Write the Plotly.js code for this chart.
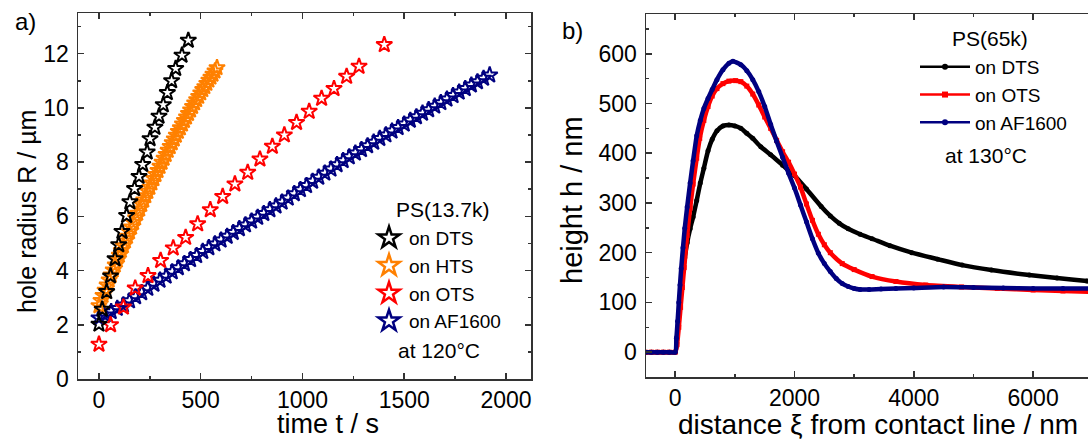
<!DOCTYPE html>
<html><head><meta charset="utf-8">
<script src="https://cdn.plot.ly/plotly-3.0.1.min.js"></script>
<style>html,body{margin:0;padding:0;background:#fff}#chart{width:1088px;height:439px}</style>
</head><body><div id="chart"></div>
<script>
// ---------- panel a) hole radius vs time ----------
const tDTS = [0,16,38,57,79,97,113,136,152,175,197,215,237,251,275,295,316,336,357,377,408,439];
const rDTS = [2.02,2.57,3.22,3.80,4.43,4.95,5.44,6.03,6.53,7.02,7.47,7.91,8.37,8.86,9.28,9.69,10.11,10.56,11.00,11.45,11.94,12.49];

const tHTS = [0,10,20,30,40,50,60,70,80,90,100,110,120,130,140,150,160,170,180,190,200,210,220,230,240,250,260,270,280,290,300,310,320,330,340,350,360,370,380,390,400,410,420,430,440,450,460,470,480,490,500,510,520,530,540,550,560,570,580];
const rHTS = [2.70,2.89,3.08,3.27,3.46,3.65,3.83,4.02,4.20,4.38,4.56,4.74,4.91,5.09,5.26,5.43,5.60,5.77,5.94,6.11,6.27,6.44,6.60,6.76,6.92,7.07,7.23,7.39,7.54,7.69,7.84,7.99,8.14,8.28,8.43,8.57,8.71,8.85,8.99,9.13,9.26,9.40,9.53,9.66,9.79,9.92,10.05,10.18,10.30,10.42,10.55,10.67,10.78,10.90,11.02,11.13,11.24,11.36,11.48];

const tOTS = [0,57,120,178,241,303,365,426,485,547,608,668,731,791,852,911,971,1033,1094,1155,1217,1278,1402];
const rOTS = [1.28,2.00,2.65,3.35,3.81,4.37,4.83,5.22,5.72,6.24,6.73,7.19,7.62,8.11,8.58,9.00,9.46,9.87,10.35,10.71,11.16,11.53,12.33];

const tAF = [0,30,60,90,120,150,180,210,240,270,300,330,360,390,420,450,480,510,540,570,600,630,660,690,720,750,780,810,840,870,900,930,960,990,1020,1050,1080,1110,1140,1170,1200,1230,1260,1290,1320,1350,1380,1410,1440,1470,1500,1530,1560,1590,1620,1650,1680,1710,1740,1770,1800,1830,1860,1890,1920];
const rAF = [2.25,2.36,2.48,2.60,2.73,2.88,3.03,3.18,3.34,3.49,3.64,3.79,3.95,4.10,4.25,4.40,4.55,4.70,4.84,4.98,5.12,5.26,5.40,5.54,5.68,5.82,5.96,6.10,6.24,6.38,6.52,6.67,6.83,6.98,7.13,7.29,7.44,7.59,7.74,7.90,8.05,8.19,8.33,8.46,8.60,8.73,8.87,9.00,9.14,9.27,9.40,9.54,9.67,9.80,9.93,10.06,10.19,10.32,10.45,10.58,10.71,10.84,10.96,11.09,11.21];

const legendA = ["on DTS","on HTS","on OTS","on AF1600"];

// ---------- panel b) height profile ----------
const xDTS = [-500,-400,-300,-200,-100,0,30,60,90,120,160,200,250,300,360,420,480,550,620,700,800,900,1000,1100,1200,1300,1435,1600,1800,2000,2200,2447,2600,2750,2900,3100,3300,3600,3966,4400,4810,5300,5935,6400,6900,7000];
const hDTS = [0,0,0,0,0,0,30,75,115,150,190,220,248,272,305,340,370,405,428,445,455,457,455,450,440,430,413,397,376,355,328,293,274,259,248,237,228,214,200,187,175,165,155,149,143,142];

const xOTS = [-500,-400,-300,-200,-100,0,30,60,90,120,150,200,250,300,360,411,480,550,620,700,800,900,1013,1100,1200,1300,1400,1500,1600,1700,1800,1900,2000,2100,2200,2300,2400,2500,2600,2800,3000,3300,3700,4200,4800,5400,6000,6500,7000];
const hOTS = [0,0,0,0,0,0,15,50,90,130,170,235,290,338,390,430,466,494,515,530,540,545,546,544,535,519,497,473,450,426,403,382,358,332,298,265,237,216,200,178,166,152,142,135,131,128,125,123,121];

const xAF = [-500,-400,-300,-200,-100,0,20,40,60,80,100,130,160,200,250,300,360,420,480,550,620,700,800,900,967,1100,1200,1300,1400,1500,1600,1700,1800,1900,2000,2100,2200,2300,2400,2500,2600,2700,2800,2900,3000,3100,3250,3450,3700,4000,4500,5000,5500,6000,6500,7000];
const hAF = [0,0,0,0,0,0,28,62,100,135,168,210,249,292,340,385,435,466,490,510,528,548,568,581,585,578,566,548,524,494,458,424,392,360,330,296,262,228,199,178,162,148,138,132,128,126,126,127,128,129,131,130,129,128,128,128];

const legendB = ["on DTS","on OTS","on AF1600"];

const FONT = "Liberation Sans, Arial, sans-serif";
const cBlack = "#000000", cOrange = "#ff8000", cRed = "#ff0000", cNavy = "#000080";

function starTrace(x, y, color) {
  return {x: x, y: y, type: "scatter", mode: "markers", xaxis: "x", yaxis: "y", showlegend: false,
    marker: {symbol: "star-open", size: 12, color: color, line: {width: 2, color: color}}, cliponaxis: false};
}
function starLegend(name, color) {
  return {x: [null], y: [null], type: "scatter", mode: "markers", xaxis: "x", yaxis: "y", name: name, legend: "legend",
    marker: {symbol: "star-open", size: 16, color: color, line: {width: 2.5, color: color}}};
}
function lineTrace(x, y, color, sym) {
  return {x: x, y: y, type: "scatter", mode: "lines+markers", xaxis: "x2", yaxis: "y2", showlegend: false,
    line: {color: color, width: 4.5, shape: "spline", smoothing: 0.6}, marker: {symbol: sym, size: 5, color: color}};
}
function lineLegend(name, color, sym) {
  return {x: [null], y: [null], type: "scatter", mode: "lines+markers", xaxis: "x2", yaxis: "y2", name: name, legend: "legend2",
    line: {color: color, width: 2.5}, marker: {symbol: sym, size: 6, color: color}};
}

const data = [
  starTrace(tAF, rAF, cNavy),
  starTrace(tOTS, rOTS, cRed),
  starTrace(tHTS, rHTS, cOrange),
  starTrace(tDTS, rDTS, cBlack),
  starLegend(legendA[0], cBlack),
  starLegend(legendA[1], cOrange),
  starLegend(legendA[2], cRed),
  starLegend(legendA[3], cNavy),
  lineTrace(xDTS, hDTS, cBlack, "circle"),
  lineTrace(xOTS, hOTS, cRed, "square"),
  lineTrace(xAF, hAF, cNavy, "circle"),
  lineLegend(legendB[0], cBlack, "circle"),
  lineLegend(legendB[1], cRed, "square"),
  lineLegend(legendB[2], cNavy, "circle")
];

const W = 1088, H = 439;
function px(x) { return x / W; }
function py(y) { return 1 - y / H; }

const axisCommon = {
  showline: true, linecolor: "#333", linewidth: 1.5, ticks: "inside", ticklen: 6, tickwidth: 1.5, tickcolor: "#333",
  showgrid: false, zeroline: false, tickfont: {family: FONT, size: 23, color: "#000"}
};

function ann(text, x, y, size, angle) {
  const a = {text: text, x: px(x), y: py(y), xref: "paper", yref: "paper", xanchor: "center", yanchor: "middle",
    showarrow: false, font: {family: FONT, size: size, color: "#000"}};
  if (angle) a.textangle = angle;
  return a;
}

const layout = {
  width: W, height: H, margin: {l: 0, r: 0, t: 0, b: 0}, paper_bgcolor: "#fff", plot_bgcolor: "#fff",
  font: {family: FONT, color: "#000"},
  xaxis: Object.assign({}, axisCommon, {domain: [px(78), px(531)], range: [-103, 2123], dtick: 500, tick0: 0, mirror: "ticks", anchor: "y",
    ticklabelstandoff: 0, minor: {dtick: 250, ticklen: 3, ticks: "inside", tickcolor: "#333", tickwidth: 1.5}}),
  yaxis: Object.assign({}, axisCommon, {domain: [py(379), py(13)], range: [0, 13.5], dtick: 2, tick0: 0, mirror: "ticks", anchor: "x",
    ticklabelstandoff: 3, minor: {dtick: 1, ticklen: 3, ticks: "inside", tickcolor: "#333", tickwidth: 1.5}}),
  xaxis2: Object.assign({}, axisCommon, {domain: [px(646), 1], range: [-490, 6920], dtick: 2000, tick0: 0, mirror: "ticks", anchor: "y2",
    ticklabelstandoff: 0, minor: {dtick: 1000, ticklen: 3, ticks: "inside", tickcolor: "#333", tickwidth: 1.5}}),
  yaxis2: Object.assign({}, axisCommon, {domain: [py(377), py(14)], range: [-50, 680], dtick: 100, tick0: 0, mirror: false, anchor: "x2",
    ticklabelstandoff: 3, minor: {dtick: 50, ticklen: 3, ticks: "inside", tickcolor: "#333", tickwidth: 1.5}}),
  legend: {x: px(369), y: py(219), xanchor: "left", yanchor: "top", bgcolor: "rgba(0,0,0,0)", borderwidth: 0,
    font: {family: FONT, size: 19, color: "#000"}, tracegroupgap: 0, itemwidth: 30},
  legend2: {x: px(915), y: py(48), xanchor: "left", yanchor: "top", bgcolor: "rgba(0,0,0,0)", borderwidth: 0,
    font: {family: FONT, size: 19, color: "#000"}, tracegroupgap: 0, itemwidth: 50},
  annotations: [
    ann("a)", 25, 22, 24),
    ann("b)", 572, 30, 24),
    ann("time t / s", 328, 424, 27),
    ann("hole radius R / µm", 27, 212, 25, -90),
    ann("height h / nm", 572, 200, 29, -90),
    ann("distance ξ from contact line / nm", 878, 424, 28),
    ann("PS(13.7k)", 442, 209, 21),
    ann("at 120°C", 439, 350, 21),
    ann("PS(65k)", 990, 38, 21),
    ann("at 130°C", 986, 155, 21)
  ]
};

Plotly.newPlot("chart", data, layout, {staticPlot: true, displayModeBar: false});
</script>
</body></html>
